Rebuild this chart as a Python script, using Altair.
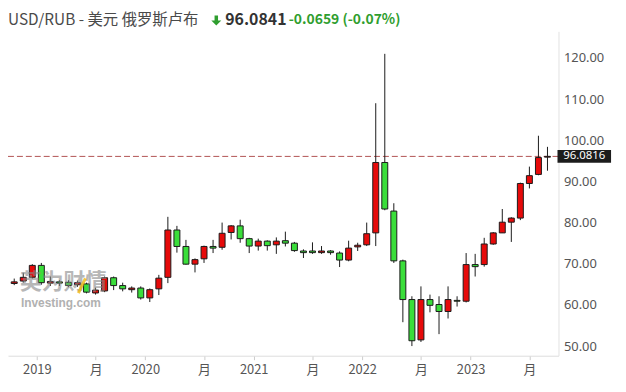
import altair as alt
import pandas as pd

# ---- data (monthly candles, Oct 2018 .. Sep 2023) ----
months = ['2018-10', '2018-11', '2018-12',
          '2019-01', '2019-02', '2019-03', '2019-04', '2019-05', '2019-06',
          '2019-07', '2019-08', '2019-09', '2019-10', '2019-11', '2019-12',
          '2020-01', '2020-02', '2020-03', '2020-04', '2020-05', '2020-06',
          '2020-07', '2020-08', '2020-09', '2020-10', '2020-11', '2020-12',
          '2021-01', '2021-02', '2021-03', '2021-04', '2021-05', '2021-06',
          '2021-07', '2021-08', '2021-09', '2021-10', '2021-11', '2021-12',
          '2022-01', '2022-02', '2022-03', '2022-04', '2022-05', '2022-06',
          '2022-07', '2022-08', '2022-09', '2022-10', '2022-11', '2022-12',
          '2023-01', '2023-02', '2023-03', '2023-04', '2023-05', '2023-06',
          '2023-07', '2023-08', '2023-09']
opens = [65.2, 65.8, 66.7, 69.6, 65.3, 65.6, 65.5, 64.9, 65.1, 62.9, 63.4, 66.6,
         64.7, 63.7, 64.1, 61.7, 63.9, 66.7, 78.2, 74.2, 69.9, 71.2, 74.2, 74.0,
         77.6, 79.2, 76.1, 74.3, 75.5, 74.6, 75.6, 75.0, 73.1, 73.1, 72.7, 73.1,
         72.6, 70.9, 74.1, 74.6, 77.5, 94.6, 82.8, 70.7, 61.3, 51.5, 61.3, 60.1,
         58.4, 61.1, 60.9, 69.8, 69.8, 74.8, 77.5, 80.1, 81.1, 89.5, 91.7, 95.9]
highs = [66.4, 67.8, 69.9, 70.2, 66.9, 66.0, 66.0, 65.9, 65.4, 64.2, 66.9, 66.9,
         65.4, 64.5, 64.5, 64.0, 67.3, 81.4, 79.2, 75.8, 71.3, 74.4, 75.8, 80.0,
         79.4, 80.7, 76.3, 76.1, 75.7, 76.4, 77.8, 75.3, 73.5, 75.2, 74.3, 73.3,
         73.0, 75.6, 75.1, 80.0, 109.0, 121.0, 84.7, 71.0, 62.1, 64.5, 62.5, 62.1,
         64.5, 62.1, 72.6, 72.4, 76.3, 77.7, 83.3, 81.3, 89.7, 93.6, 101.1, 98.4]
lows = [64.8, 65.4, 66.4, 64.9, 64.6, 64.6, 64.3, 64.4, 62.8, 62.5, 63.1, 63.6,
        63.3, 63.0, 61.3, 60.7, 62.4, 65.3, 72.7, 69.8, 67.9, 70.2, 72.6, 73.4,
        75.9, 75.1, 72.6, 73.2, 73.2, 72.4, 74.2, 72.9, 71.4, 72.4, 72.4, 72.2,
        69.2, 70.6, 73.1, 74.3, 74.3, 83.0, 70.2, 55.8, 50.0, 51.0, 58.2, 52.9,
        56.7, 59.6, 60.6, 66.9, 69.3, 74.6, 77.5, 75.3, 80.6, 88.3, 91.5, 92.6]
closes = [65.6, 66.7, 69.6, 65.4, 65.7, 65.3, 64.7, 65.4, 63.1, 63.6, 66.6, 64.7,
          63.9, 64.1, 61.7, 63.7, 66.5, 78.2, 74.2, 69.9, 71.0, 74.2, 73.8, 77.4,
          79.2, 76.1, 74.3, 75.5, 74.4, 75.5, 75.0, 73.2, 72.7, 72.7, 73.1, 72.7,
          70.9, 73.8, 74.5, 77.3, 94.6, 83.3, 70.7, 61.3, 51.3, 61.3, 59.9, 58.4,
          61.3, 60.9, 69.8, 69.3, 74.8, 77.5, 80.1, 81.1, 89.5, 91.4, 95.8, 96.08]

x_tick_pos = [2.5, 9, 14.5, 21, 26.5, 33, 38.5, 45, 50.5, 57]
x_tick_labels = ['2019', '月', '2020', '月', '2021', '月', '2022', '月', '2023', '月']
y_ticks = [50, 60, 70, 80, 90, 100, 110, 120]

last_price = 96.0816
last_price_label = '96.0816'
header_pair = 'USD/RUB - 美元 俄罗斯卢布'
header_price = '96.0841'
header_change = '-0.0659 (-0.07%)'

RED = '#e60a0a'
GREEN = '#3ade3a'
EDGE = '#1a1a1a'
FONT = 'Noto Sans CJK SC'
NUMFONT = 'Noto Sans'

df = pd.DataFrame({
    'idx': list(range(len(months))),
    'month': months,
    'open': opens, 'high': highs, 'low': lows, 'close': closes,
})
df['dir'] = ['up' if c >= o else 'down' for o, c in zip(opens, closes)]

label_expr = ''
for p, l in zip(x_tick_pos, x_tick_labels):
    label_expr += f"datum.value == {p} ? '{l}' : "
label_expr += "''"

x_enc = alt.X('idx:Q',
              scale=alt.Scale(domain=[-0.14, 59.67], nice=False, zero=False),
              axis=alt.Axis(values=x_tick_pos, labelExpr=label_expr, title=None,
                            grid=False, domainColor='#dddddd', tickColor='#cccccc',
                            tickSize=4, labelPadding=4, labelFontSize=13,
                            labelColor='#555555', labelFont=FONT))
yscale = alt.Scale(domain=[47.66, 126.46], nice=False, zero=False)
y_axis = alt.Axis(orient='right', values=y_ticks, format='.2f', title=None,
                  grid=False, ticks=False, domainColor='#e2e2e2', labelPadding=5,
                  labelFontSize=13, labelColor='#555555', labelFont=NUMFONT)

base = alt.Chart(df)

wicks = base.mark_rule(color=EDGE, strokeWidth=1).encode(
    x=x_enc,
    y=alt.Y('low:Q', scale=yscale, axis=y_axis),
    y2='high:Q')

bodies = base.mark_bar(size=6, stroke=EDGE, strokeWidth=1).encode(
    x=x_enc,
    y=alt.Y('open:Q', scale=yscale, axis=y_axis),
    y2='close:Q',
    color=alt.Color('dir:N', scale=alt.Scale(domain=['up', 'down'], range=[RED, GREEN]),
                    legend=None))

price_df = pd.DataFrame({'p': [last_price], 't': [last_price_label]})
price_line = alt.Chart(price_df).mark_rule(color='#a84040', strokeWidth=1,
                                           strokeDash=[6, 3], opacity=0.9).encode(
    y=alt.Y('p:Q', scale=yscale), x=alt.value(0), x2=alt.value(555))
price_box = alt.Chart(price_df).mark_rule(color='#1c1c1c', strokeWidth=13,
                                          strokeCap='butt').encode(
    y=alt.Y('p:Q', scale=yscale), x=alt.value(554), x2=alt.value(608))
price_txt = alt.Chart(price_df).mark_text(color='white', fontSize=11.5, font=NUMFONT,
                                          align='center', baseline='middle').encode(
    y=alt.Y('p:Q', scale=yscale), x=alt.value(581), text='t:N')

# watermark
wm1 = alt.Chart(pd.DataFrame({'t': ['英为财情']})).mark_text(
    font=FONT, fontSize=22, fontWeight='bold', color='#888888', opacity=0.6,
    align='left', baseline='middle').encode(
    text='t:N', x=alt.value(12), y=alt.value(253))
wm_slash = alt.Chart(pd.DataFrame({'a': [1]})).mark_rule(
    color='#f2b400', strokeWidth=3, opacity=0.75).encode(
    x=alt.value(71), x2=alt.value(78), y=alt.value(264), y2=alt.value(249))
wm2 = alt.Chart(pd.DataFrame({'t': ['Investing.com']})).mark_text(
    font='Liberation Sans', fontSize=12, fontWeight='bold', color='#888888',
    opacity=0.65, align='left', baseline='middle').encode(
    text='t:N', x=alt.value(13), y=alt.value(274))

# header
HY = -11
h1 = alt.Chart(pd.DataFrame({'t': [header_pair]})).mark_text(
    font=FONT, fontSize=15.5, color='#4a4a4a', align='left', baseline='middle').encode(
    text='t:N', x=alt.value(0), y=alt.value(HY))
arrow = alt.Chart(pd.DataFrame({'a': [1]})).mark_point(
    shape='M-0.35,-1 L0.35,-1 L0.35,0 L1,0 L0,1 L-1,0 L-0.35,0 Z',
    filled=True, color='#2f9e2f', opacity=1, size=100).encode(
    x=alt.value(210), y=alt.value(HY))
h2 = alt.Chart(pd.DataFrame({'t': [header_price]})).mark_text(
    font=FONT, fontSize=16, fontWeight='bold', color='#333333', align='left',
    baseline='middle').encode(text='t:N', x=alt.value(219), y=alt.value(HY))
h3 = alt.Chart(pd.DataFrame({'t': [header_change]})).mark_text(
    font=FONT, fontSize=14, fontWeight='bold', color='#2f9e2f', align='left',
    baseline='middle').encode(text='t:N', x=alt.value(283), y=alt.value(HY))

chart = alt.layer(price_line, wicks, bodies, wm1, wm_slash, wm2, price_box, price_txt,
                  h1, arrow, h2, h3).properties(
    width=555, height=327,
    autosize=alt.AutoSizeParams(type='none'),
    padding={'left': 0, 'top': 22, 'right': 60, 'bottom': 30},
    background='white',
).configure_view(stroke=None)

chart.save('out.html', embed_options={'renderer': 'svg', 'actions': False})
